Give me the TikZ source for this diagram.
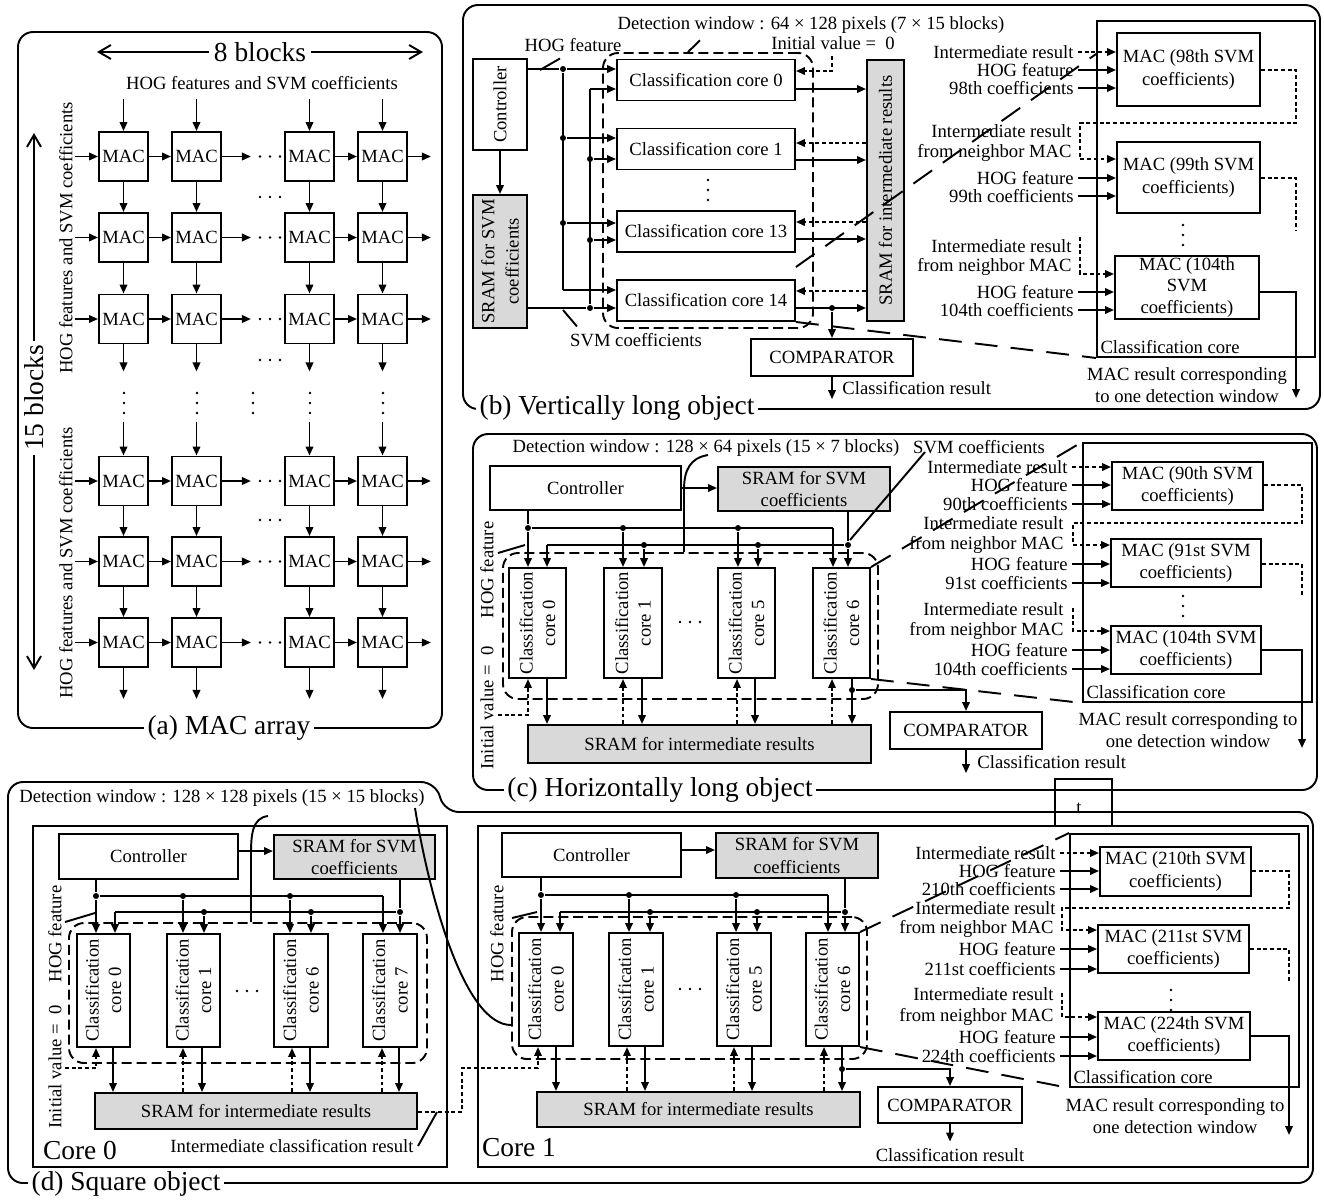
\documentclass[tikz,border=0pt]{standalone}
\usepackage{fontspec}
\setmainfont{Liberation Serif}
\usetikzlibrary{arrows.meta,fit,calc}

% three small dots, horizontal / vertical
\newcommand\hdt[2]{\fill (#1-10,#2) circle (0.028cm) (#1,#2) circle (0.028cm) (#1+10,#2) circle (0.028cm);}
\newcommand\vdt[2]{\fill (#1,#2-10) circle (0.028cm) (#1,#2) circle (0.028cm) (#1,#2+10) circle (0.028cm);}

\begin{document}
\begin{tikzpicture}[
  x=0.02cm, y=-0.02cm,
  line width=1.1pt,
  font=\fontsize{10.6}{12.8}\selectfont,
  box/.style={draw, inner sep=0pt, align=center},
  gbox/.style={box, fill=black!15},
  txt/.style={align=center, inner sep=0pt},
  arr/.style={-{Triangle[length=1.8mm,width=1.5mm]}},
  dotln/.style={dash pattern=on 2.2pt off 1.6pt},
  dotarr/.style={arr, dotln},
  win/.style={draw, inner sep=0pt, dash pattern=on 5.7pt off 2.8pt, rounded corners=0.3cm},
  zoomln/.style={dash pattern=on 13pt off 7.5pt},
  jn/.style={circle, fill, inner sep=0pt, minimum size=0.12cm},
  lbl/.style={anchor=east, inner sep=2pt},
  big/.style={font=\fontsize{15.6}{16}\selectfont},
  captxt/.style={big, fill=white, inner sep=2pt},
  barb/.style={-{Straight Barb[length=2.4mm,width=2.8mm]}},
  panel/.style={draw, rounded corners=0.3cm}
]
\useasboundingbox (0,0) rectangle (1324,1201);

%%%% (a) MAC array
\draw[panel] (18,32) rectangle (442,728);
\node[captxt] (capa) at (229,728) {(a) MAC array};
\node[captxt] (eightb) at (260,52) {8 blocks};
\draw[barb] (eightb.west) -- (97,52);
\draw[barb] (eightb.east) -- (423,52);
\node[captxt, rotate=90] (fifteenb) at (34,398) {15 blocks};
\draw[barb] (fifteenb.east) -- (34,133);
\draw[barb] (fifteenb.west) -- (34,670);
\node (hogtop) at (262,83) {HOG features and SVM coefficients};
\node[rotate=90] (hogl1) at (66,238) {HOG features and SVM coefficients};
\node[rotate=90] (hogl2) at (66,563) {HOG features and SVM coefficients};

\foreach \col/\x in {1/123.5,2/196.5,3/309.5,4/382.5}{
  \foreach \row/\y in {1/156.5,2/237.5,3/319,4/481,5/561.5,6/642.5}
    \node[box, minimum size=0.98cm] (m\row\col) at (\x,\y) {MAC};
}
\foreach \row/\y in {1/156.5,2/237.5,3/319,4/481,5/561.5,6/642.5}{
  \draw[arr] ([xshift=-0.46cm]m\row1.west) -- (m\row1.west);
  \draw[arr] (m\row1) -- (m\row2);
  \draw[arr] (m\row2.east) -- ++(0.58cm,0);
  \hdt{270}{\y}
  \draw[arr] (m\row3) -- (m\row4);
  \draw[arr] (m\row4.east) -- ++(0.46cm,0);
}
\foreach \col in {1,...,4}{
  \draw[arr] ([yshift=0.64cm]m1\col.north) -- (m1\col.north);
  \draw[arr] (m1\col) -- (m2\col);
  \draw[arr] (m2\col) -- (m3\col);
  \draw[arr] (m3\col.south) -- ++(0,-0.54cm);
  \draw[arr] ([yshift=0.68cm]m4\col.north) -- (m4\col.north);
  \draw[arr] (m4\col) -- (m5\col);
  \draw[arr] (m5\col) -- (m6\col);
  \draw[arr] (m6\col.south) -- ++(0,-0.62cm);
}
\hdt{270}{197} \hdt{270}{360} \hdt{270}{520}
\foreach \x in {124,197,253,310,383} {\vdt{\x}{403}}

%%%% (b) Vertically long object
\draw[panel] (463,5) rectangle (1320,409);
\node[captxt] (capb) at (617,408) {(b) Vertically long object};
\node[box, fit={(473,59)(527,150)}] (ctlb) {};
\node[rotate=90] at (ctlb) {Controller};
\node[gbox, fit={(473,195)(527,328)}] (svmb) {};
\node[rotate=90, align=center] at (svmb) {SRAM for SVM\\[1pt]coefficients};
\draw[arr] (ctlb) -- (svmb);
\foreach \n/\y in {0/80,1/149,13/231.5,14/300.5}
  \node[box, minimum width=3.56cm, minimum height=0.82cm] (cb\n) at (706,\y) {Classification core \n};
\vdt{708}{190}
\node[gbox, fit={(867,60)(904,321)}] (intb) {};
\node[rotate=90] at (intb) {SRAM for intermediate results};
\node[win, fit={(603,53)(813,328)}] (dwb) {};

% HOG feature bus
\node[jn] (hb0) at (563,69) {};
\node[jn] (hb1) at (563,138) {};
\node[jn] (hb2) at (563,223) {};
\coordinate (hb3) at (563,290);
\draw (hb0 -| ctlb.east) -- (hb0) -- (hb3);
\foreach \k/\n in {0/0,1/1,2/13,3/14} \draw[arr] (hb\k) -- (hb\k -| cb\n.west);
% SVM coefficient bus
\coordinate (sb0) at (590,89);
\node[jn] (sb1) at (590,159) {};
\node[jn] (sb2) at (590,240) {};
\node[jn] (sb3) at (590,308) {};
\draw (sb3 -| svmb.east) -- (sb3) -- (sb0);
\foreach \k/\n in {0/0,1/1,2/13,3/14} \draw[arr] (sb\k) -- (sb\k -| cb\n.west);
% results in / out
\foreach \n/\yo in {0/89,1/160,13/239,14/308} \draw[arr] (cb\n.east |- 0,\yo) -- (intb.west |- 0,\yo);
\foreach \n/\yf in {1/143,13/222,14/291} \draw[dotarr] (intb.west |- 0,\yf) -- (cb\n.east |- 0,\yf);
\node (ivb) at (833,43) {Initial value = \ 0};
\draw[dotarr] (ivb.south -| 832,0) |- (cb0.east |- 0,71);
\node[jn] (ob) at (832,308) {};
\node[box, fit={(751,339)(913,376)}] (cmpb) {};
\node[txt] at (cmpb) {COMPARATOR};
\draw[arr] (ob) -- (ob |- cmpb.north);
\node[anchor=west, inner sep=2pt] (crb) at (838,388) {Classification result};
\draw[arr] (ob |- cmpb.south) -- (ob |- crb.south);
\node (hogbl) at (573,45) {HOG feature};
\draw (hogbl.south -| 560,0) -- (540,70);
\node (svmbl) at (636,340) {SVM coefficients};
\draw (svmbl.north -| 577,0) -- (563,310);
\node (dwbl) at (811,25) {Detection window : 64 × 128 pixels (7 × 15 blocks)};
\draw (dwbl.south -| 700,0) -- (688,0 |- dwb.north);

% inside one classification core
\node[box, fit={(1097,21)(1315,357)}] (ccb) {};
\node[anchor=south west, inner sep=2pt] at (ccb.south west) {Classification core};
\node[box, fit={(1117,33)(1260,106)}] (mb98) {};
\node[txt] at (mb98) {MAC (98th SVM\\coefficients)};
\node[box, fit={(1117,142)(1260,213)}] (mb99) {};
\node[txt] at (mb99) {MAC (99th SVM\\coefficients)};
\node[box, fit={(1115,256)(1259,319)}] (mb104) {};
\node[txt, font=\fontsize{10.6}{12.2}\selectfont] at (mb104) {MAC (104th\\SVM\\coefficients)};
\node[lbl] (b1) at (1078,52) {Intermediate result};
\node[lbl] (b2) at (1078,70) {HOG feature};
\node[lbl] (b3) at (1078,88) {98th coefficients};
\node[lbl] (b4) at (1076,131) {Intermediate result};
\node[lbl] (b5) at (1076,153) {from neighbor MAC};
\node[lbl] (b6) at (1078,178) {HOG feature};
\node[lbl] (b7) at (1078,196) {99th coefficients};
\node[lbl] (b8) at (1076,246) {Intermediate result};
\node[lbl] (b9) at (1076,267) {from neighbor MAC};
\node[lbl] (b10) at (1078,292) {HOG feature};
\node[lbl] (b11) at (1078,310) {104th coefficients};
\draw[dotarr] (b1.east) -- (b1.east -| mb98.west);
\foreach \k in {2,3} \draw[arr] (b\k.east) -- (b\k.east -| mb98.west);
\foreach \k in {6,7} \draw[arr] (b\k.east) -- (b\k.east -| mb99.west);
\foreach \k in {10,11} \draw[arr] (b\k.east) -- (b\k.east -| mb104.west);
\draw[dotarr] (mb98.east |- 0,70) -| (1296,123) -| (1080,159) -- (mb99.west |- 0,159);
\draw[dotln] (mb99.east |- 0,178) -| (1296,230);
\draw[dotarr] (1080,237) |- (mb104.west |- 0,274);
\draw[arr] (mb104.east |- 0,292) -| (1296,398);
\vdt{1183}{235}
\node[align=center] (mrb) at (1187,385) {MAC result corresponding\\to one detection window};
\draw[zoomln] (cb13.east |- 0,267) -- (ccb.west |- 0,54);
\draw[zoomln] (cb14.south east) -- (ccb.south west);

%%%% (c) Horizontally long object
\draw[panel] (473,434) rectangle (1317,790);
\node[captxt] (capc) at (660,790) {(c) Horizontally long object};
\node[box, fit={(490,466)(681,510)}] (ctlc) {};
\node[txt] at (ctlc) {Controller};
\node[gbox, fit={(718,467)(890,511)}] (svmc) {};
\node[txt] at (svmc) {SRAM for SVM\\coefficients};
\draw[arr] (ctlc.east |- 0,488) -- (svmc.west |- 0,488);
\foreach \n/\xa/\xb in {0/509/566,1/604/662,5/718/775,6/813/870}{
  \node[box, fit={(\xa,568)(\xb,678)}] (cc\n) {};
  \node[rotate=90, align=center] at (cc\n) {Classification\\core \n};
}
\hdt{690}{622}
\node[gbox, fit={(528,725)(871,763)}] (intc) {};
\node[txt] at (intc) {SRAM for intermediate results};
\node[win, fit={(503,553)(878,699)}] (dwc) {};
\node[jn] (hc0) at (528,528) {};
\node[jn] (hc1) at (623,528) {};
\node[jn] (hc5) at (738,528) {};
\coordinate (hc6) at (833,528);
\draw (hc0 |- ctlc.south) -- (hc0) -- (hc6);
\foreach \n in {0,1,5,6} \draw[arr] (hc\n) -- (hc\n |- cc\n.north);
\coordinate (sc0) at (547,545);
\node[jn] (sc1) at (644,545) {};
\node[jn] (sc5) at (758,545) {};
\node[jn] (sc6) at (848,545) {};
\draw (sc6 |- svmc.south) -- (sc6) -- (sc0);
\foreach \n in {0,1,5,6} \draw[arr] (sc\n) -- (sc\n |- cc\n.north);
\foreach \n/\xo in {0/547,1/642,5/755,6/852} \draw[arr] (\xo,0 |- cc\n.south) -- (\xo,0 |- intc.north);
\foreach \n/\xf in {1/623,5/737,6/832} \draw[dotarr] (\xf,0 |- intc.north) -- (\xf,0 |- cc\n.south);
\node[rotate=90] (ivc) at (487,708) {Initial value = \ 0};
\draw[dotarr] (498,715) -| (528,0 |- cc0.south);
\node[rotate=90] (hogc) at (487,570) {HOG feature};
\draw (498,553) -- (525,545);
\node[jn] (oc) at (852,690) {};
\node[box, fit={(890,712)(1042,749)}] (cmpc) {};
\node[txt] at (cmpc) {COMPARATOR};
\draw[arr] (oc) -| (cmpc.north);
\node[anchor=west, inner sep=2pt] (crc) at (973,762) {Classification result};
\draw[arr] (cmpc.south) -- (cmpc.south |- crc.south);
\node (dwcl) at (706,448) {Detection window : 128 × 64 pixels (15 × 7 blocks)};
\draw (708,455) .. controls (690,458) and (684,470) .. (684,490) -- (684,0 |- dwc.north);
\node (svmcl) at (979,447) {SVM coefficients};
\draw (850,540) -- (925,452);

\node[box, fit={(1083,443)(1312,702)}] (ccc) {};
\node[anchor=south west, inner sep=2pt] at (ccc.south west) {Classification core};
\node[box, fit={(1112,462)(1263,510)}] (mc90) {};
\node[txt] at (mc90) {MAC (90th SVM\\coefficients)};
\node[box, fit={(1111,539)(1261,587)}] (mc91) {};
\node[txt] at (mc91) {MAC (91st SVM\\coefficients)};
\node[box, fit={(1111,626)(1261,674)}] (mc104) {};
\node[txt] at (mc104) {MAC (104th SVM\\coefficients)};
\node[lbl] (c1) at (1072,467) {Intermediate result};
\node[lbl] (c2) at (1072,485) {HOG feature};
\node[lbl] (c3) at (1072,504) {90th coefficients};
\node[lbl] (c4) at (1068,523) {Intermediate result};
\node[lbl] (c5) at (1068,545) {from neighbor MAC};
\node[lbl] (c6) at (1072,564) {HOG feature};
\node[lbl] (c7) at (1072,583) {91st coefficients};
\node[lbl] (c8) at (1068,609) {Intermediate result};
\node[lbl] (c9) at (1068,631) {from neighbor MAC};
\node[lbl] (c10) at (1072,650) {HOG feature};
\node[lbl] (c11) at (1072,669) {104th coefficients};
\draw[dotarr] (c1.east) -- (c1.east -| mc90.west);
\foreach \k in {2,3} \draw[arr] (c\k.east) -- (c\k.east -| mc90.west);
\foreach \k in {6,7} \draw[arr] (c\k.east) -- (c\k.east -| mc91.west);
\foreach \k in {10,11} \draw[arr] (c\k.east) -- (c\k.east -| mc104.west);
\draw[dotarr] (mc90.east |- 0,485) -| (1302,523) -| (1073,545) -- (mc91.west |- 0,545);
\draw[dotln] (mc91.east |- 0,564) -| (1302,595);
\draw[dotarr] (1073,608) |- (mc104.west |- 0,631);
\draw[arr] (mc104.east |- 0,650) -| (1302,748);
\vdt{1183}{606}
\node[align=center] (mrc) at (1188,730) {MAC result corresponding to\\one detection window};
\draw[zoomln] (cc6.north east) -- (ccc.north west);
\draw[zoomln] (cc6.south east) -- (ccc.south west);

%%%% (d) Square object
\draw[rounded corners=0.3cm] (8,1000) -- (8,782) -- (436,782) -- (444,812) -- (1313,812) -- (1313,1183) -- (8,1183) -- cycle;
\node[captxt] (capd) at (126,1184) {(d) Square object};
\draw (1055,779) rectangle (1112,826);
\node (tmark) at (1079,808) {t};

\node[box, fit={(33,826)(447,1167)}] (core0) {};
\node[big] at (80,1150) {Core 0};
\node[box, fit={(478,826)(1308,1167)}] (core1) {};
\node[big] at (519,1148) {Core 1};

% core 0
\node[box, fit={(59,834)(238,879)}] (ctld0) {};
\node[txt] at (ctld0) {Controller};
\node[gbox, fit={(274,835)(435,879)}] (svmd0) {};
\node[txt] at (svmd0) {SRAM for SVM\\coefficients};
\draw[arr] (ctld0.east |- 0,851) -- (svmd0.west |- 0,851);
\foreach \n/\xa/\xb in {0/77/130,1/167/220,6/274/328,7/363/417}{
  \node[box, fit={(\xa,934)(\xb,1047)}] (cd\n) {};
  \node[rotate=90, align=center] at (cd\n) {Classification\\core \n};
}
\hdt{247}{991}
\node[gbox, fit={(95,1093)(417,1129)}] (intd0) {};
\node[txt] at (intd0) {SRAM for intermediate results};
\node[win, fit={(69,923)(427,1063)}] (dwd0) {};
\node[jn] (hd0) at (96,896) {};
\node[jn] (hd1) at (183,896) {};
\node[jn] (hd6) at (290,896) {};
\coordinate (hd7) at (383,896);
\draw (hd0 |- ctld0.south) -- (hd0) -- (hd7);
\foreach \n in {0,1,6,7} \draw[arr] (hd\n) -- (hd\n |- cd\n.north);
\coordinate (sd0) at (115,912);
\node[jn] (sd1) at (204,912) {};
\node[jn] (sd6) at (311,912) {};
\node[jn] (sd7) at (400,912) {};
\draw (sd7 |- svmd0.south) -- (sd7) -- (sd0);
\foreach \n in {0,1,6,7} \draw[arr] (sd\n) -- (sd\n |- cd\n.north);
\foreach \n/\xo in {0/113,1/202,6/310,7/399} \draw[arr] (\xo,0 |- cd\n.south) -- (\xo,0 |- intd0.north);
\foreach \n/\xf in {1/183,6/292,7/382} \draw[dotarr] (\xf,0 |- intd0.north) -- (\xf,0 |- cd\n.south);
\node[rotate=90] (ivd) at (55,1067) {Initial value = \ 0};
\draw[dotarr] (65,1068) -| (96,0 |- cd0.south);
\node[rotate=90] (hogd0) at (55,934) {HOG feature};
\draw (65,922) -- (95,913);
\node[anchor=east, inner sep=2pt] (icr) at (418,1146) {Intermediate classification result};
\draw (icr.east) -- (437,1112);

% core 1
\node[box, fit={(502,833)(681,877)}] (ctld1) {};
\node[txt] at (ctld1) {Controller};
\node[gbox, fit={(716,833)(878,878)}] (svmd1) {};
\node[txt] at (svmd1) {SRAM for SVM\\coefficients};
\draw[arr] (ctld1.east |- 0,850) -- (svmd1.west |- 0,850);
\foreach \n/\xa/\xb in {0/519/573,1/609/663,5/717/771,6/806/859}{
  \node[box, fit={(\xa,933)(\xb,1046)}] (ce\n) {};
  \node[rotate=90, align=center] at (ce\n) {Classification\\core \n};
}
\hdt{690}{989}
\node[gbox, fit={(537,1092)(860,1127)}] (intd1) {};
\node[txt] at (intd1) {SRAM for intermediate results};
\node[win, fit={(512,917)(867,1059)}] (dwd1) {};
\node[jn] (he0) at (541,895) {};
\node[jn] (he1) at (629,895) {};
\node[jn] (he5) at (736,895) {};
\coordinate (he6) at (828,895);
\draw (he0 |- ctld1.south) -- (he0) -- (he6);
\foreach \n in {0,1,5,6} \draw[arr] (he\n) -- (he\n |- ce\n.north);
\coordinate (se0) at (560,912);
\node[jn] (se1) at (650,912) {};
\node[jn] (se5) at (757,912) {};
\node[jn] (se6) at (845,912) {};
\draw (se6 |- svmd1.south) -- (se6) -- (se0);
\foreach \n in {0,1,5,6} \draw[arr] (se\n) -- (se\n |- ce\n.north);
\foreach \n/\xo in {0/556,1/645,5/752,6/842} \draw[arr] (\xo,0 |- ce\n.south) -- (\xo,0 |- intd1.north);
\foreach \n/\xf in {1/627,5/734,6/824} \draw[dotarr] (\xf,0 |- intd1.north) -- (\xf,0 |- ce\n.south);
\draw[dotarr] (intd0.east |- 0,1112) -| (462,1068) -| (538,0 |- ce0.south);
\node[rotate=90] (hogd1) at (497,934) {HOG feature};
\draw (512,918) -- (537,912);
\node[jn] (od) at (842,1069) {};
\node[box, fit={(878,1087)(1022,1123)}] (cmpd) {};
\node[txt] at (cmpd) {COMPARATOR};
\draw[arr] (od) -| (cmpd.north);
\node (crd) at (950,1155) {Classification result};
\draw[arr] (cmpd.south) -- (crd.north);
\node (dwdl) at (222,798) {Detection window : 128 × 128 pixels (15 × 15 blocks)};
\draw (415,808) .. controls (430,900) and (465,1025) .. (dwd1.west |- 0,1025);
\draw (268,816) .. controls (252,818) and (251,835) .. (251,855) -- (251,0 |- dwd0.north);

\node[box, fit={(1070,834)(1299,1087)}] (ccd) {};
\node[anchor=south west, inner sep=2pt] at (ccd.south west) {Classification core};
\node[box, fit={(1100,847)(1251,896)}] (mac210) {};
\node[txt] at (mac210) {MAC (210th SVM\\coefficients)};
\node[box, fit={(1098,925)(1249,973)}] (mac211) {};
\node[txt] at (mac211) {MAC (211st SVM\\coefficients)};
\node[box, fit={(1098,1012)(1250,1060)}] (mac224) {};
\node[txt] at (mac224) {MAC (224th SVM\\coefficients)};
\node[lbl] (d1) at (1060,853) {Intermediate result};
\node[lbl] (d2) at (1060,871) {HOG feature};
\node[lbl] (d3) at (1060,889) {210th coefficients};
\node[lbl] (d4) at (1060,908) {Intermediate result};
\node[lbl] (d5) at (1058,929) {from neighbor MAC};
\node[lbl] (d6) at (1060,949) {HOG feature};
\node[lbl] (d7) at (1060,969) {211st coefficients};
\node[lbl] (d8) at (1058,994) {Intermediate result};
\node[lbl] (d9) at (1058,1017) {from neighbor MAC};
\node[lbl] (d10) at (1060,1037) {HOG feature};
\node[lbl] (d11) at (1060,1056) {224th coefficients};
\draw[dotarr] (d1.east) -- (d1.east -| mac210.west);
\foreach \k in {2,3} \draw[arr] (d\k.east) -- (d\k.east -| mac210.west);
\foreach \k in {6,7} \draw[arr] (d\k.east) -- (d\k.east -| mac211.west);
\foreach \k in {10,11} \draw[arr] (d\k.east) -- (d\k.east -| mac224.west);
\draw[dotarr] (mac210.east |- 0,871) -| (1289,908) -| (1062,930) -- (mac211.west |- 0,930);
\draw[dotln] (mac211.east |- 0,949) -| (1289,982);
\draw[dotarr] (1062,993) |- (mac224.west |- 0,1017);
\draw[arr] (mac224.east |- 0,1036) -| (1289,1135);
\vdt{1171}{1000}
\node[align=center] (mrd) at (1175,1116) {MAC result corresponding to\\one detection window};
\draw[zoomln] (ce6.north east) -- (ccd.north west);
\draw[zoomln] (ce6.south east) -- (ccd.south west);
\end{tikzpicture}
\end{document}
